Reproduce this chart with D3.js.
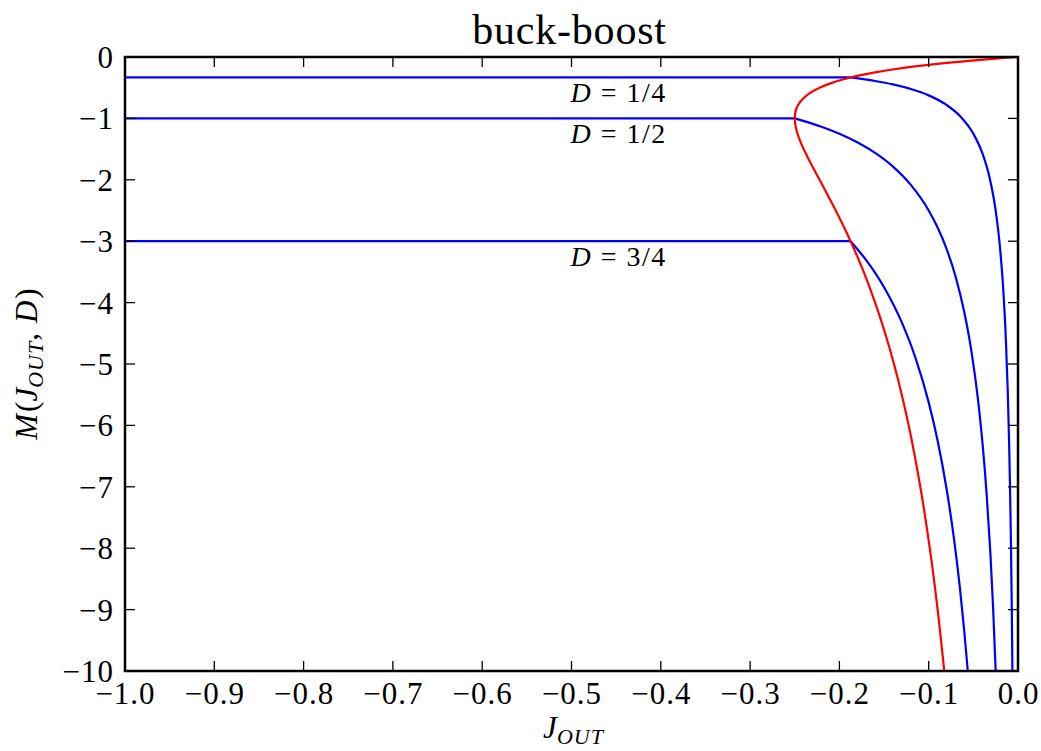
<!DOCTYPE html>
<html>
<head>
<meta charset="utf-8">
<script src="https://cdn.jsdelivr.net/npm/d3@7"></script>
<style>
  html, body { margin: 0; padding: 0; background: #fff; }
  svg { display: block; }
  text { font-family: "Liberation Serif", "DejaVu Serif", serif; fill: #000; }
</style>
</head>
<body>
<svg id="chart" width="1041" height="751"></svg>
<script>
// ---- data ----
const xTicks = [-1.0, -0.9, -0.8, -0.7, -0.6, -0.5, -0.4, -0.3, -0.2, -0.1, 0.0];
const yTicks = [0, -1, -2, -3, -4, -5, -6, -7, -8, -9, -10];
const dutyLabels = ["1/4", "1/2", "3/4"];
const ccmLevels = [-0.3333, -1.0, -3.0];
const ccmStartJ = [-1.0, -1.0, -1.0];
const ccmEndJ = [-0.1875, -0.25, -0.1875];

// DCM branches, [J_OUT, M]
const dcmQuarter = [[-0.1875,-0.3333],[-0.16,-0.3906],[-0.14,-0.4464],[-0.12,-0.5208],[-0.1,-0.625],[-0.08,-0.7813],[-0.065,-0.9615],[-0.05,-1.25],[-0.04,-1.5625],[-0.032,-1.9531],[-0.025,-2.5],[-0.02,-3.125],[-0.016,-3.9063],[-0.0135,-4.6296],[-0.0115,-5.4348],[-0.01,-6.25],[-0.0088,-7.1023],[-0.0078,-8.0128],[-0.007,-8.9286],[-0.00625,-10]];
const dcmHalf = [[-0.25,-1],[-0.22,-1.1364],[-0.2,-1.25],[-0.18,-1.3889],[-0.16,-1.5625],[-0.14,-1.7857],[-0.12,-2.0833],[-0.1,-2.5],[-0.09,-2.7778],[-0.08,-3.125],[-0.07,-3.5714],[-0.06,-4.1667],[-0.052,-4.8077],[-0.045,-5.5556],[-0.04,-6.25],[-0.035,-7.1429],[-0.031,-8.0645],[-0.028,-8.9286],[-0.025,-10]];
const dcmThreeQuarter = [[-0.1875,-3],[-0.17,-3.3088],[-0.15,-3.75],[-0.13,-4.3269],[-0.115,-4.8913],[-0.1,-5.625],[-0.09,-6.25],[-0.08,-7.0313],[-0.072,-7.8125],[-0.065,-8.6538],[-0.06,-9.375],[-0.05625,-10]];

// CCM/DCM boundary, [J_OUT, M]
const boundaryCurve = [[0,0],[-0.0192,-0.02],[-0.0454,-0.05],[-0.0826,-0.1],[-0.1134,-0.15],[-0.1389,-0.2],[-0.16,-0.25],[-0.1775,-0.3],[-0.1875,-0.3333],[-0.1983,-0.375],[-0.2093,-0.425],[-0.2222,-0.5],[-0.2344,-0.6],[-0.2422,-0.7],[-0.2469,-0.8],[-0.2493,-0.9],[-0.25,-1.0],[-0.2494,-1.1],[-0.2479,-1.2],[-0.2431,-1.4],[-0.2367,-1.6],[-0.2296,-1.8],[-0.2222,-2.0],[-0.2041,-2.5],[-0.1875,-3.0],[-0.1728,-3.5],[-0.16,-4.0],[-0.1488,-4.5],[-0.1389,-5.0],[-0.1224,-6.0],[-0.1094,-7.0],[-0.0988,-8.0],[-0.09,-9.0],[-0.0826,-10.0]];

// ---- layout ----
const svg = d3.select("#chart");
const L = 125, R = 1018, T = 57, B = 671;
const x = d3.scaleLinear().domain([-1, 0]).range([L, R]);
const y = d3.scaleLinear().domain([-10, 0]).range([B, T]);
const minus = s => s.replace("-", "\u2212");

svg.append("defs").append("clipPath").attr("id", "clip")
  .append("rect").attr("x", L).attr("y", T).attr("width", R - L).attr("height", B - T);

const plot = svg.append("g").attr("clip-path", "url(#clip)");
const lineX = d3.line().x(d => x(d[0])).y(d => y(d[1])).curve(d3.curveMonotoneX);
const lineY = d3.line().x(d => x(d[0])).y(d => y(d[1])).curve(d3.curveMonotoneY);

// CCM horizontal segments
ccmLevels.forEach((m, i) => {
  plot.append("path")
    .attr("d", d3.line().x(d => x(d[0])).y(d => y(d[1]))([[ccmStartJ[i], m], [ccmEndJ[i], m]]))
    .attr("fill", "none").attr("stroke", "#0000ff").attr("stroke-width", 2.2);
});
[dcmQuarter, dcmHalf, dcmThreeQuarter].forEach(arr => {
  plot.append("path").attr("d", lineX(arr))
    .attr("fill", "none").attr("stroke", "#0000ff").attr("stroke-width", 2.2);
});
plot.append("path").attr("d", lineY(boundaryCurve))
  .attr("fill", "none").attr("stroke", "#ff0000").attr("stroke-width", 2.2);

// annotations
ccmLevels.forEach((m, i) => {
  const t = svg.append("text").attr("x", x(-0.5) - 1).attr("y", y(m) + 25).attr("font-size", 28);
  t.append("tspan").attr("font-style", "italic").text("D");
  t.append("tspan").attr("dx", 10).text("=");
  t.append("tspan").attr("dx", 10).attr("letter-spacing", 1.5).text(dutyLabels[i]);
});

// axes: ticks inward on all sides
const axB = svg.append("g").attr("transform", `translate(0,${B})`)
  .call(d3.axisBottom(x).tickValues(xTicks).tickSize(0).tickPadding(0).tickFormat(d => minus(d3.format(".1f")(d))));
const axL = svg.append("g").attr("transform", `translate(${L},0)`)
  .call(d3.axisLeft(y).tickValues(yTicks).tickSize(0).tickPadding(0).tickFormat(d => minus(String(d))));
[axB, axL].forEach(a => { a.select(".domain").remove(); a.selectAll("text").attr("font-family", "Liberation Serif").attr("font-size", 31).attr("fill", "#000"); });
axB.selectAll("text").attr("y", 33).attr("dy", 0).attr("letter-spacing", 1);
axL.selectAll("text").attr("x", -11).attr("dy", "0.34em").attr("letter-spacing", 1);

const tickG = svg.append("g").attr("stroke", "#000").attr("stroke-width", 1.3);
xTicks.forEach(v => {
  tickG.append("line").attr("x1", x(v)).attr("x2", x(v)).attr("y1", B).attr("y2", B - 10);
  tickG.append("line").attr("x1", x(v)).attr("x2", x(v)).attr("y1", T).attr("y2", T + 10);
});
yTicks.forEach(v => {
  tickG.append("line").attr("y1", y(v)).attr("y2", y(v)).attr("x1", L).attr("x2", L + 10);
  tickG.append("line").attr("y1", y(v)).attr("y2", y(v)).attr("x1", R).attr("x2", R - 10);
});

svg.append("rect").attr("x", L).attr("y", T).attr("width", R - L).attr("height", B - T)
  .attr("fill", "none").attr("stroke", "#000").attr("stroke-width", 2.5);

// title
svg.append("text").attr("x", (L + R) / 2 - 2).attr("y", 44).attr("text-anchor", "middle")
  .attr("font-size", 42).attr("letter-spacing", 0.8).text("buck-boost");

// x label
const xl = svg.append("text").attr("x", (L + R) / 2 + 2).attr("y", 738).attr("text-anchor", "middle").attr("font-size", 31).attr("font-style", "italic");
xl.append("tspan").text("J");
xl.append("tspan").attr("font-size", 22).attr("dy", 6).attr("letter-spacing", 1).text("OUT");

// y label
const yl = svg.append("text").attr("transform", `translate(37,${(T + B) / 2}) rotate(-90)`)
  .attr("text-anchor", "middle").attr("font-size", 31);
yl.append("tspan").attr("font-style", "italic").text("M");
yl.append("tspan").attr("dx", 2).text("(");
yl.append("tspan").attr("font-style", "italic").text("J");
yl.append("tspan").attr("font-style", "italic").attr("font-size", 22).attr("dy", 6).attr("letter-spacing", 1).text("OUT");
yl.append("tspan").attr("dy", -6).text(",");
yl.append("tspan").attr("dx", 10).attr("font-style", "italic").text("D");
yl.append("tspan").attr("dx", 2).text(")");
</script>
</body>
</html>
